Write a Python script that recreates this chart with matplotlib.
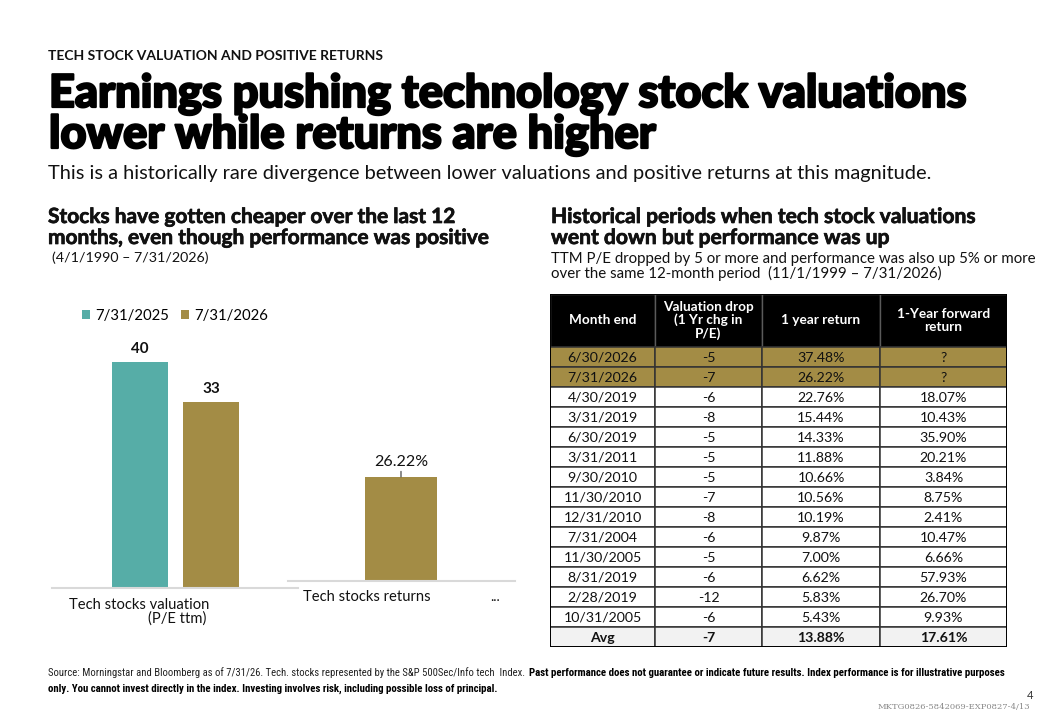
"""
Tech stock valuation vs returns: bar pair + historical table
"""
import matplotlib
matplotlib.use('Agg')
import matplotlib.pyplot as plt
import matplotlib.patheffects as pe
from matplotlib.patches import Rectangle
from matplotlib import font_manager as fm

W, H = 1053, 717

# ===== data =====
legend_labels = ['7/31/2025', '7/31/2026']
pe_values = [40, 33]
return_value = 26.22

month_end = ['6/30/2026', '7/31/2026', '4/30/2019', '3/31/2019', '6/30/2019', '3/31/2011',
             '9/30/2010', '11/30/2010', '12/31/2010', '7/31/2004', '11/30/2005', '8/31/2019',
             '2/28/2019', '10/31/2005']
val_drop = [-5, -7, -6, -8, -5, -5, -5, -7, -8, -6, -5, -6, -12, -6]
one_year_ret = [37.48, 26.22, 22.76, 15.44, 14.33, 11.88, 10.66, 10.56, 10.19, 9.87, 7.00, 6.62, 5.83, 5.43]
fwd_ret = [None, None, 18.07, 10.43, 35.90, 20.21, 3.84, 8.75, 2.41, 10.47, 6.66, 57.93, 26.70, 9.93]
avg_drop, avg_one_year, avg_fwd = -7, 13.88, 17.61
n_highlight = 2
headers = ['Month end', 'Valuation drop\n(1 Yr chg in\nP/E)', '1 year return', '1-Year forward\nreturn']

TEAL = '#56ADA7'
GOLD = '#A38C45'
INK = '#111111'

names = {f.name for f in fm.fontManager.ttflist}
BASE = 'Lato' if 'Lato' in names else 'DejaVu Sans'
NARROW = next((n for n in ['Liberation Sans Narrow', 'Roboto Condensed', 'Open Sans Condensed']
               if n in names), BASE)
plt.rcParams['font.family'] = [BASE, 'DejaVu Sans']

fig = plt.figure(figsize=(W/100, H/100), dpi=100)
fig.patch.set_facecolor('white')


def T(x, y, s, **kw):
    return fig.text(x/W, 1 - y/H, s, **kw)


def fit(t, width):
    r = fig.canvas.get_renderer()
    w = t.get_window_extent(r).width
    t.set_fontsize(t.get_fontsize()*width/w)
    return t.get_fontsize()


heavy = [pe.withStroke(linewidth=1.6, foreground='black')]
semi = [pe.withStroke(linewidth=0.5, foreground=INK)]

# ===== header texts =====
t = T(48, 59.5, 'TECH STOCK VALUATION AND POSITIVE RETURNS', fontsize=8.5,
      fontweight='bold', color=INK, va='baseline')
fit(t, 337)
t = T(49, 107, 'Earnings pushing technology stock valuations', fontsize=26,
      fontweight='black', color='black', va='baseline', path_effects=heavy)
fs = fit(t, 918)
T(49, 148, 'lower while returns are higher', fontsize=fs, fontweight='black',
  color='black', va='baseline', path_effects=heavy)
t = T(48, 179, 'This is a historically rare divergence between lower valuations and positive returns at this magnitude.',
      fontsize=13, color=INK, va='baseline')
fit(t, 884)

t = T(48, 223, 'Stocks have gotten cheaper over the last 12', fontsize=12,
      fontweight='bold', color=INK, va='baseline', path_effects=semi)
fs = fit(t, 405)
T(48, 244, 'months, even though performance was positive', fontsize=fs,
  fontweight='bold', color=INK, va='baseline', path_effects=semi)
t = T(52, 262, '(4/1/1990 – 7/31/2026)', fontsize=8.6, color=INK, va='baseline')
fit(t, 156)

t = T(551, 223, 'Historical periods when tech stock valuations', fontsize=12,
      fontweight='bold', color=INK, va='baseline', path_effects=semi)
fs = fit(t, 422)
T(551, 244, 'went down but performance was up', fontsize=fs,
  fontweight='bold', color=INK, va='baseline', path_effects=semi)
t = T(551, 263, 'TTM P/E dropped by 5 or more and performance was also up 5% or more',
      fontsize=8.6, color=INK, va='baseline')
fs = fit(t, 484)
T(551, 278, 'over the same 12-month period  (11/1/1999 – 7/31/2026)', fontsize=fs,
  color=INK, va='baseline')

# ===== left bars: P/E =====
axL = fig.add_axes([52/W, 1 - 588/H, 246/W, 282.5/H])
b1 = axL.bar([0], [pe_values[0]], width=0.79, color=TEAL)
b2 = axL.bar([1], [pe_values[1]], width=0.79, color=GOLD)
axL.bar_label(b1, padding=4, fontsize=11, fontweight='bold', color=INK)
axL.bar_label(b2, padding=4, fontsize=11, fontweight='bold', color=INK)
axL.set_xlim(-1.239, 2.225)
axL.set_ylim(0, 50)

# ===== right bar: returns =====
axR = fig.add_axes([288/W, 1 - 581/H, 227/W, 198.5/H])
b3 = axR.bar([0], [return_value], width=1.0, color=GOLD)
axR.annotate(f'{return_value:.2f}%', xy=(0, return_value), xytext=(0, 6),
             textcoords='offset points', ha='center', va='bottom', fontsize=11.5,
             color=INK, arrowprops=dict(arrowstyle='-', color='#333333', lw=0.8,
                                        shrinkA=0, shrinkB=0))
axR.set_xlim(-1.569, 1.583)
axR.set_ylim(0, 50)

for ax in (axL, axR):
    for s in ('top', 'right', 'left'):
        ax.spines[s].set_visible(False)
    ax.spines['bottom'].set_color('#d9d9d9')
    ax.spines['bottom'].set_linewidth(1.5)
    ax.set_xticks([])
    ax.set_yticks([])
    ax.patch.set_alpha(0)

fig.legend([b1, b2], legend_labels, loc='upper left', bbox_to_anchor=(82/W, 1 - 309/H),
           frameon=False, ncol=2, fontsize=10.7, handlelength=0.55, handleheight=0.55,
           handletextpad=0.35, columnspacing=0.8, borderaxespad=0, borderpad=0)

T(209, 609, 'Tech stocks valuation', fontsize=10.6, color=INK, va='baseline', ha='right')
T(206, 623, '(P/E ttm)', fontsize=10.6, color=INK, va='baseline', ha='right')
T(303, 601, 'Tech stocks returns', fontsize=10.6, color=INK, va='baseline')
T(490, 601, '...', fontsize=10, color=INK, va='baseline')

# ===== table =====
col_w = [105, 107, 118, 127]
hdr_h, row_h = 53, 20
tab = fig.add_axes([550/W, 1 - 647/H, sum(col_w)/W, (hdr_h + row_h*15)/H])
tab.set_xlim(0, sum(col_w))
tab.set_ylim(hdr_h + row_h*15, 0)
tab.axis('off')

xs = [sum(col_w[:i]) for i in range(len(col_w))]
for c, h in enumerate(headers):
    tab.add_patch(Rectangle((xs[c], 0), col_w[c], hdr_h, facecolor='black',
                            edgecolor='#5a5a5a', lw=1.0))
    tab.text(xs[c] + col_w[c]/2, hdr_h/2, h, ha='center', va='center', color='white',
             fontsize=9.8, fontweight='bold', linespacing=1.05)

rows = []
for i in range(len(month_end)):
    fw = '?' if fwd_ret[i] is None else f'{fwd_ret[i]:.2f}%'
    rows.append([month_end[i], f'{val_drop[i]}', f'{one_year_ret[i]:.2f}%', fw])
rows.append(['Avg', f'{avg_drop}', f'{avg_one_year:.2f}%', f'{avg_fwd:.2f}%'])

for r, vals in enumerate(rows):
    y0 = hdr_h + r*row_h
    is_avg = r == len(rows) - 1
    fc = GOLD if r < n_highlight else ('#F2F2F2' if is_avg else 'white')
    for c, v in enumerate(vals):
        tab.add_patch(Rectangle((xs[c], y0), col_w[c], row_h, facecolor=fc,
                                edgecolor='#333333', lw=1.1))
        tab.text(xs[c] + col_w[c]/2, y0 + row_h/2 + 0.5, v, ha='center', va='center',
                 color=INK, fontsize=10.2, fontweight='bold' if is_avg else 'normal')
tab.add_patch(Rectangle((0, 0), sum(col_w), hdr_h + row_h*15, fill=False,
                        edgecolor='black', lw=1.4))

# ===== footer =====
t = T(48, 676, 'Source: Morningstar and Bloomberg as of 7/31/26. Tech. stocks represented by the S&P 500Sec/Info tech  Index.',
      fontsize=6.5, family=[NARROW, 'DejaVu Sans'], color='#222222', va='baseline')
fit(t, 477)
t = T(529, 676, 'Past performance does not guarantee or indicate future results. Index performance is for illustrative purposes',
      fontsize=6.5, family=[NARROW, 'DejaVu Sans'], fontweight='bold', color='black', va='baseline')
fs = fit(t, 481)
T(48, 692, 'only. You cannot invest directly in the index. Investing involves risk, including possible loss of principal.',
  fontsize=fs, family=[NARROW, 'DejaVu Sans'], fontweight='bold', color='black', va='baseline')
T(1033, 699, '4', fontsize=8, color='#333333', va='baseline', ha='right')
T(1030, 709, 'MKTG0826-5842069-EXP0827-4/13', fontsize=6, family=['DejaVu Serif'],
  color='#888888', va='baseline', ha='right')

fig.savefig('out.png', dpi=100)
